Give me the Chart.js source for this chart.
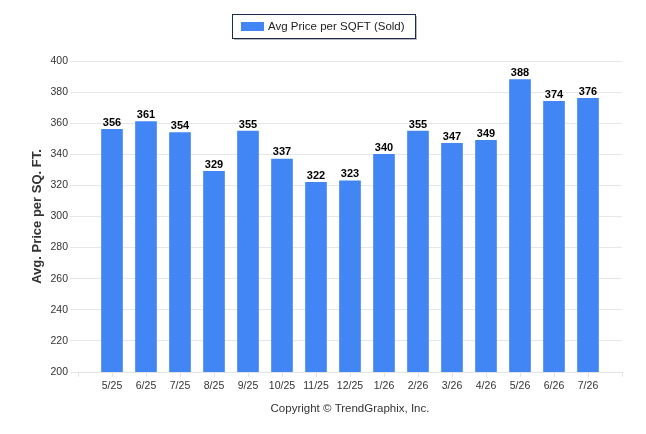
<!DOCTYPE html>
<html>
<head>
<meta charset="utf-8">
<script src="https://cdn.jsdelivr.net/npm/chart.js"></script>
<style>
  html, body { margin: 0; padding: 0; background: #fff; }
  #wrap { width: 646px; height: 434px; }
</style>
</head>
<body>
<div id="wrap"><canvas id="myChart"></canvas></div>
<script>
    // data
    const months = ['5/25', '6/25', '7/25', '8/25', '9/25', '10/25', '11/25', '12/25', '1/26', '2/26', '3/26', '4/26', '5/26', '6/26', '7/26'];
    const avgPrice = [356, 361, 354, 329, 355, 337, 322, 323, 340, 355, 347, 349, 388, 374, 376];
    const yTicks = [200, 220, 240, 260, 280, 300, 320, 340, 360, 380, 400];

    const seriesName = 'Avg Price per SQFT (Sold)';
    const barColor = '#4285f4';
    const txtFont = '"Liberation Sans", Arial, sans-serif';

    // value labels on top of each bar
    const valueLabels = {
        id: 'valueLabels',
        afterDatasetsDraw(chart) {
            const ctx = chart.ctx;
            const meta = chart.getDatasetMeta(0);
            ctx.save();
            ctx.font = 'bold 11px ' + txtFont;
            ctx.fillStyle = '#000';
            ctx.textAlign = 'center';
            ctx.textBaseline = 'bottom';
            meta.data.forEach((bar, i) => {
                ctx.fillText(avgPrice[i], bar.x, bar.y - 1);
            });
            ctx.restore();
        }
    };

    // framed legend at the top
    const boxLegend = {
        id: 'boxLegend',
        afterDraw(chart) {
            const ctx = chart.ctx;
            const x = 232, y = 14, w = 183, h = 24;
            ctx.save();
            ctx.fillStyle = '#b8b8b8';
            ctx.fillRect(x + 2, y + 2, w, h);
            ctx.fillStyle = '#fff';
            ctx.fillRect(x, y, w, h);
            ctx.strokeStyle = '#1c2b4d';
            ctx.lineWidth = 1;
            ctx.strokeRect(x + 0.5, y + 0.5, w, h);
            ctx.fillStyle = barColor;
            ctx.fillRect(241, 22, 23, 9);
            ctx.font = '11.5px ' + txtFont;
            ctx.fillStyle = '#222';
            ctx.textBaseline = 'middle';
            ctx.fillText(seriesName, 268, 26.5);
            ctx.restore();
        }
    };

    const ctx = document.getElementById('myChart');
    myChart = new Chart(ctx, {
        type: 'bar',
        data: {
            datasets: [{
                label: seriesName,
                data: avgPrice.map((v, i) => ({ x: i, y: v })),
                backgroundColor: barColor,
                barThickness: 21
            }]
        },
        options: {
            responsive: true,
            maintainAspectRatio: false,
            animation: false,
            layout: { padding: { top: 61, right: 24, left: 0, bottom: 0 } },
            plugins: {
                legend: { display: false },
                tooltip: { enabled: false }
            },
            scales: {
                x: {
                    type: 'linear',
                    min: -1,
                    max: 15,
                    offset: false,
                    afterBuildTicks(axis) {
                        axis.ticks = [];
                        for (let i = -1; i <= 15; i++) axis.ticks.push({ value: i });
                    },
                    afterFit(axis) { axis.height = 62; },
                    grid: {
                        offset: false,
                        drawOnChartArea: false,
                        tickLength: 5,
                        color: '#e3e3e3'
                    },
                    border: { color: '#e3e3e3' },
                    ticks: {
                        autoSkip: false,
                        maxRotation: 0,
                        padding: 3,
                        color: '#333',
                        font: { family: txtFont, size: 10.5 },
                        callback: (v) => months[v] || ''
                    },
                    title: {
                        display: true,
                        text: 'Copyright © TrendGraphix, Inc.',
                        color: '#333',
                        font: { family: txtFont, size: 11.5 },
                        padding: { top: 0, bottom: 18 }
                    }
                },
                y: {
                    min: 200,
                    max: 400,
                    afterBuildTicks(axis) {
                        axis.ticks = yTicks.map(v => ({ value: v }));
                    },
                    afterFit(axis) { axis.width = 78; },
                    grid: {
                        color: '#e6e6e6',
                        tickLength: 8
                    },
                    border: { display: false },
                    ticks: {
                        padding: 2,
                        color: '#333',
                        font: { family: txtFont, size: 10.5 }
                    },
                    title: {
                        display: true,
                        text: 'Avg. Price per SQ. FT.',
                        color: '#333',
                        font: { family: txtFont, size: 13, weight: 'bold' },
                        padding: { top: 30, bottom: 0 }
                    }
                }
            }
        },
        plugins: [valueLabels, boxLegend]
    });
</script>
</body>
</html>
